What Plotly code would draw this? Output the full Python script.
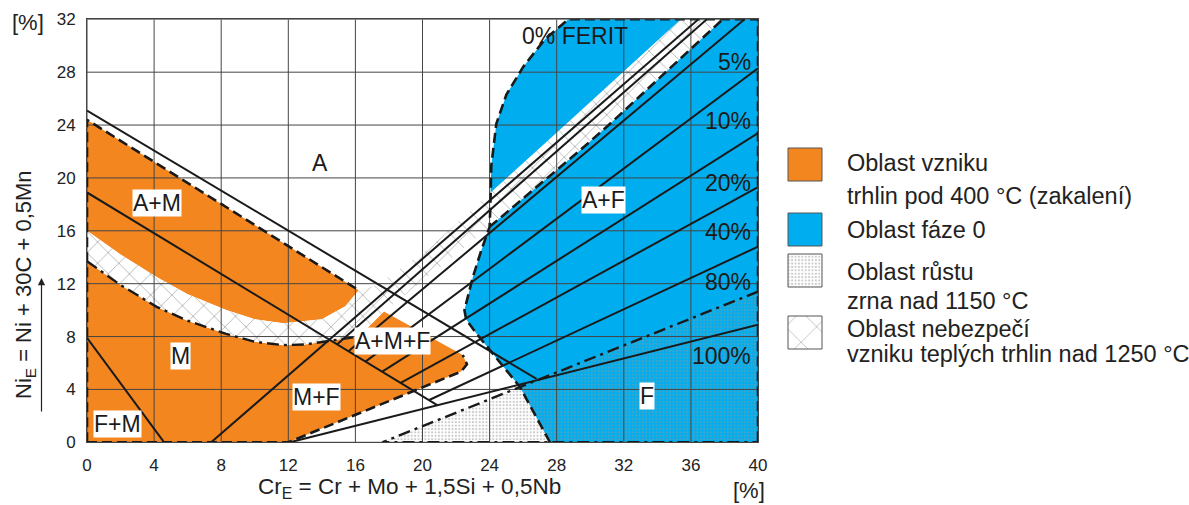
import plotly.graph_objects as go

W, H = 1189, 505
FONT = "Liberation Sans, Arial, sans-serif"
ORANGE = "#F4861F"
BLUE = "#00AEEF"

# ---------------- data (Cr_E, Ni_E in %) ----------------
x_ticks = [0, 4, 8, 12, 16, 20, 24, 28, 32, 36, 40]
y_ticks = [0, 4, 8, 12, 16, 20, 24, 28, 32]

# upper martensite-crack region (A+M)
orange_up_x = [0, 16.2, 15.4, 14.0, 11.7, 10.0, 8.3, 6.0, 4.15, 2.0, 0]
orange_up_y = [24.4, 11.5, 10.3, 9.3, 9.0, 9.3, 10.0, 11.2, 12.5, 14.2, 16.0]

# lower martensite-crack region (M, F+M, M+F, A+M+F)
orange_lo_x = [0, 12.0, 22.3, 22.65, 22.4, 17.7, 16.2, 14.6, 13.0, 11.7, 10.0, 8.3, 6.0, 4.15, 2.0, 0]
orange_lo_y = [0, 0, 5.35, 5.9, 6.6, 9.9, 8.0, 7.7, 7.4, 7.35, 7.6, 8.2, 9.2, 10.25, 11.9, 13.7]

# sigma-phase region
blue_x = [28.7, 40, 40, 27.6, 25.8, 23.2, 22.6, 22.5, 23.0, 23.5, 24.0, 24.05, 24.1, 24.4, 25.0, 26.0, 27.3, 28.7]
blue_y = [32, 32, 0, 0, 4.2, 8.25, 9.3, 10.0, 12.5, 14.5, 16.3, 18.0, 20.9, 24.1, 26.3, 28.4, 30.5, 32]

# hot-cracking band
band_x = [0, 2, 4.15, 6, 8.3, 10, 11.7, 14, 15.4, 16.2, 17.3, 20.4, 28.5, 35.4, 37.9, 31.1, 29.4, 24.0, 20.6, 17.7,
          16.2, 14.6, 13.0, 11.7, 10.0, 8.3, 6.0, 4.15, 2.0, 0]
band_y = [16.0, 14.2, 12.5, 11.2, 10.0, 9.3, 9.0, 9.3, 10.3, 11.5, 11.9, 14.7, 24.0, 32, 32, 24.0, 22.1, 16.3, 12.8, 9.9,
          8.0, 7.7, 7.4, 7.35, 7.6, 8.2, 9.2, 10.25, 11.9, 13.7]

# grain-growth region
dots_x = [17.6, 40, 40, 17.6]
dots_y = [0, 0, 11.4, 0]

# solid boundary / iso-ferrite lines
line_names = ["A", "A+M|M", "F+M", "M+F / 0%", "0% b", "5%", "10%", "20%", "40%", "80%", "100%"]
line_x0 = [0, 0, 0, 7.4, 14.9, 15.6, 16.6, 17.6, 18.7, 20.4, 12.1]
line_y0 = [25.1, 18.9, 7.9, 0, 7.4, 6.9, 6.1, 5.35, 4.5, 3.2, 0]
line_x1 = [26.8, 20.9, 4.6, 36.45, 36.95, 39.2, 40, 40, 40, 40, 40]
line_y1 = [4.8, 2.8, 0, 32, 32, 32, 28.3, 23.4, 19.3, 14.8, 8.9]

# dashed boundaries
dash_paths = [
    ([0, 0, 16.2], [0, 24.4, 11.5]),
    ([0, 12.0, 22.3, 22.65, 22.4], [0, 0, 5.35, 5.9, 6.6]),
    ([27.6, 25.8, 23.2, 22.6, 22.5, 23.0, 23.5, 24.0, 24.05, 24.1, 24.4, 25.0, 26.0, 27.3, 28.7, 40, 40],
     [0, 4.2, 8.25, 9.3, 10.0, 12.5, 14.5, 16.3, 18.0, 20.9, 24.1, 26.3, 28.4, 30.5, 32, 32, 0]),
    ([24.0, 29.4, 31.1, 37.9], [16.3, 22.1, 24.0, 32]),
]
# dash-dot boundaries
dashdot_paths = [
    ([0, 2.0, 4.15, 6.0, 8.3, 10.0, 11.7, 13.0, 14.6, 16.2], [13.7, 11.9, 10.25, 9.2, 8.2, 7.6, 7.35, 7.4, 7.7, 8.0]),
    ([40, 17.6, 40], [11.4, 0, 0]),
]

region_text = ["A", "A+M", "M", "F+M", "M+F", "A+M+F", "A+F", "F"]
region_x = [13.9, 4.17, 5.6, 1.79, 13.7, 18.2, 30.8, 33.4]
region_y = [21.1, 18.1, 6.5, 1.38, 3.43, 7.66, 18.3, 3.5]
region_boxed = [False, True, True, True, True, True, True, True]

pct_text = ["5%", "10%", "20%", "40%", "80%", "100%"]
pct_y = [28.8, 24.3, 19.6, 15.9, 12.1, 6.5]
pct_x = 39.7
ferit_label = ("0% FERIT", 29.1, 30.7)

legend_lines = [
    ["Oblast vzniku", "trhlin pod 400 °C (zakalení)"],
    ["Oblast fáze 0"],
    ["Oblast růstu", "zrna nad 1150 °C"],
    ["Oblast nebezpečí", "vzniku teplých trhlin nad 1250 °C"],
]
legend_kind = ["orange", "blue", "dots", "hatch"]
# ---------------------------------------------------------

HATCH = dict(shape="x", size=15, solidity=0.12, fgcolor="#707070", bgcolor="white")
DOTS = dict(shape=".", size=3.4, solidity=0.32, fgcolor="#949494", bgcolor="rgba(0,0,0,0)")

fig = go.Figure()


def poly(x, y, xa="x", ya="y", color=None, pattern=None, line=None):
    kw = {}
    if pattern is not None:
        kw["fillpattern"] = pattern
    fig.add_trace(go.Scatter(x=x, y=y, mode="lines", fill="toself",
                             fillcolor=color if color else "rgba(0,0,0,0)",
                             line=line if line else dict(width=0),
                             xaxis=xa, yaxis=ya, hoverinfo="skip", showlegend=False, **kw))


poly(orange_up_x, orange_up_y, color=ORANGE)
poly(orange_lo_x, orange_lo_y, color=ORANGE)
poly(blue_x, blue_y, color=BLUE)
poly(band_x, band_y, pattern=HATCH)
poly(dots_x, dots_y, pattern=DOTS)

# grid above fills
gx, gy = [], []
for t in x_ticks:
    gx += [t, t, None]
    gy += [y_ticks[0], y_ticks[-1], None]
for t in y_ticks:
    gx += [x_ticks[0], x_ticks[-1], None]
    gy += [t, t, None]
fig.add_trace(go.Scatter(x=gx, y=gy, mode="lines", line=dict(color="#454545", width=1),
                         hoverinfo="skip", showlegend=False))

for i in range(len(line_names)):
    fig.add_trace(go.Scatter(x=[line_x0[i], line_x1[i]], y=[line_y0[i], line_y1[i]], mode="lines",
                             line=dict(color="#1a1a1a", width=2), hoverinfo="skip", showlegend=False))
for px_, py_ in dash_paths:
    fig.add_trace(go.Scatter(x=px_, y=py_, mode="lines", cliponaxis=False,
                             line=dict(color="#1a1a1a", width=2.6, dash="10px,5px"),
                             hoverinfo="skip", showlegend=False))
for px_, py_ in dashdot_paths:
    fig.add_trace(go.Scatter(x=px_, y=py_, mode="lines", cliponaxis=False,
                             line=dict(color="#1a1a1a", width=2.4, dash="12px,5px,3px,5px"),
                             hoverinfo="skip", showlegend=False))

annotations = []
for t, x, y, b in zip(region_text, region_x, region_y, region_boxed):
    annotations.append(dict(x=x, y=y, xref="x", yref="y", text=t, showarrow=False,
                            font=dict(family=FONT, size=23, color="#1a1a1a"),
                            bgcolor="white" if b else None, borderpad=0))
for t, y in zip(pct_text, pct_y):
    annotations.append(dict(x=pct_x, y=y, xref="x", yref="y", text=t, showarrow=False, xanchor="right",
                            font=dict(family=FONT, size=23, color="#1a1a1a")))
annotations.append(dict(x=ferit_label[1], y=ferit_label[2], xref="x", yref="y", text=ferit_label[0],
                        showarrow=False, font=dict(family=FONT, size=23, color="#1a1a1a")))

# axis titles and units (paper = full figure since margins are zero)
CM = dict(xref="paper", yref="paper", xanchor="center", yanchor="middle", showarrow=False)
annotations += [
    dict(CM, x=409 / W, y=1 - 488 / H,
         text="Cr<sub>E</sub> = Cr + Mo + 1,5Si + 0,5Nb", font=dict(family=FONT, size=22.5, color="#222")),
    dict(CM, x=749 / W, y=1 - 490 / H, text="[%]", font=dict(family=FONT, size=22, color="#222")),
    dict(CM, x=28 / W, y=1 - 22 / H, text="[%]", font=dict(family=FONT, size=22, color="#222")),
    dict(CM, x=25 / W, y=1 - 285 / H, textangle=-90,
         text="Ni<sub>E</sub> = Ni + 30C + 0,5Mn", font=dict(family=FONT, size=22, color="#222")),
    dict(x=41.5 / W, y=1 - 278 / H, xref="paper", yref="paper", showarrow=True, ax=0, ay=135,
         axref="pixel", ayref="pixel", arrowhead=2, arrowsize=1.2, arrowwidth=1.2, arrowcolor="#222", text=""),
]

# legend drawn in its own pixel-like axes on the right
sw_x0, sw_x1 = 788, 822
sw_tops = [148, 213, 254, 316]
sw_h = 33
text_y = [[163, 196], [230], [272, 301], [329, 354]]
for kind, top, lines, tys in zip(legend_kind, sw_tops, legend_lines, text_y):
    rx = [sw_x0, sw_x1, sw_x1, sw_x0, sw_x0]
    ry = [top, top, top + sw_h, top + sw_h, top]
    border = dict(color="#555", width=1)
    if kind == "orange":
        poly(rx, ry, "x2", "y2", color=ORANGE, line=border)
    elif kind == "blue":
        poly(rx, ry, "x2", "y2", color=BLUE, line=border)
    elif kind == "dots":
        poly(rx, ry, "x2", "y2", pattern=dict(DOTS, bgcolor="white"), line=border)
    else:
        poly(rx, ry, "x2", "y2", pattern=dict(HATCH, size=22, solidity=0.07), line=border)
    for ln, ty in zip(lines, tys):
        annotations.append(dict(x=845, y=ty, xref="x2", yref="y2", text=ln, showarrow=False,
                                xanchor="left", font=dict(family=FONT, size=23.5, color="#222")))

fig.update_layout(
    width=W, height=H, margin=dict(l=0, r=0, t=0, b=0, autoexpand=False),
    paper_bgcolor="white", plot_bgcolor="white",
    font=dict(family=FONT, color="#222"),
    xaxis=dict(domain=[87 / W, 758 / W], range=[0, 40], tickvals=x_ticks, showgrid=False, zeroline=False,
               showline=True, linecolor="#454545", mirror=True, ticks="outside", ticklen=7,
               tickcolor="rgba(0,0,0,0)", tickfont=dict(size=17, family=FONT, color="#222"),
               automargin=False),
    yaxis=dict(domain=[1 - 442.3 / H, 1 - 19.3 / H], range=[0, 32], tickvals=y_ticks, showgrid=False,
               zeroline=False, showline=True, linecolor="#454545", mirror=True, ticks="outside", ticklen=7,
               tickcolor="rgba(0,0,0,0)", tickfont=dict(size=17, family=FONT, color="#222"),
               automargin=False),
    xaxis2=dict(domain=[770 / W, 1], range=[770, 1189], visible=False, anchor="y2"),
    yaxis2=dict(domain=[0, 1], range=[505, 0], visible=False, anchor="x2"),
    annotations=annotations,
)

fig.write_html("out.html", config={"displayModeBar": False},
               post_script="document.body.style.margin='0px';")
